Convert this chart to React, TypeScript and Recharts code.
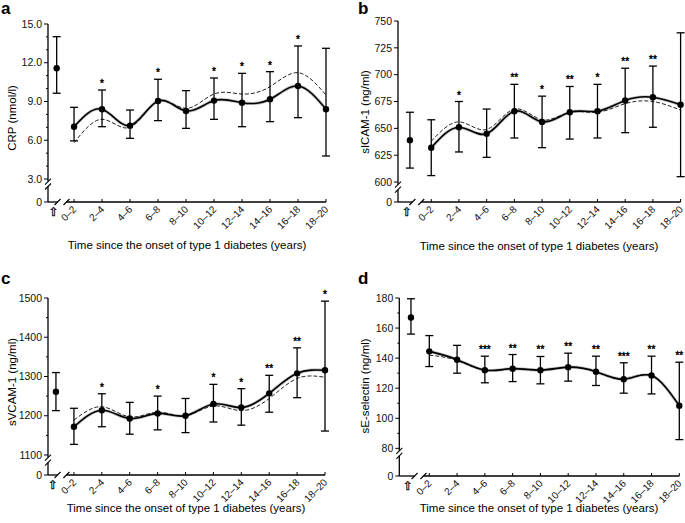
import React from 'react';
import { ComposedChart, Line, Scatter, ErrorBar, XAxis, YAxis, ReferenceLine, ReferenceDot } from 'recharts';

const CATS = ['0–2', '2–4', '4–6', '6–8', '8–10', '10–12', '12–14', '14–16', '16–18', '18–20'];

// a: CRP  (baseline = [mean, lower, upper])
const crpBase = [11.57, 9.64, 14.02];
const crpMean = [7.05, 8.4, 7.13, 9.04, 8.27, 9.07, 8.91, 9.17, 10.2, 8.4];
const crpLow = [5.95, 7.05, 6.15, 7.52, 6.92, 7.62, 7.05, 7.44, 7.75, 4.78];
const crpHigh = [8.55, 9.89, 8.34, 10.72, 9.84, 10.82, 11.18, 11.31, 13.3, 13.12];
const crpAdj = [5.81, 7.62, 7.0, 9.0, 8.47, 9.58, 9.58, 10.15, 11.23, 9.5];
const crpStars = ['', '*', '', '*', '', '*', '*', '*', '*', ''];

// b: sICAM-1
const icamBase = [639, 613, 665];
const icamMean = [632, 651, 645, 666, 656, 665, 666, 676, 679, 672];
const icamLow = [606, 628, 623, 641, 632, 640, 641, 646, 651, 605];
const icamHigh = [658, 675, 668, 691, 680, 689, 691, 706, 708, 739];
const icamAdj = [638, 656, 649, 668, 658, 665, 665, 673, 675, 667];
const icamStars = ['', '*', '', '**', '*', '**', '*', '**', '**', ''];

// c: sVCAM-1
const vcamBase = [1261, 1213, 1310];
const vcamMean = [1172, 1214, 1193, 1206, 1200, 1230, 1221, 1257, 1308, 1316];
const vcamLow = [1127, 1172, 1153, 1164, 1157, 1184, 1176, 1209, 1246, 1161];
const vcamHigh = [1219, 1256, 1234, 1250, 1244, 1280, 1269, 1303, 1373, 1492];
const vcamAdj = [1189, 1223, 1197, 1209, 1200, 1225, 1213, 1244, 1295, 1298];
const vcamStars = ['', '*', '', '*', '', '*', '*', '**', '**', '*'];

// d: sE-selectin
const selBase = [167, 156, 179.5];
const selMean = [144.5, 139, 132, 133, 132, 134, 131, 126, 128.4, 108.4];
const selLow = [134.4, 130, 123.6, 124.4, 122.9, 124.7, 121.8, 116.7, 116.2, 85.8];
const selHigh = [155, 148.5, 141.3, 142.4, 141.1, 143.3, 141.3, 136.9, 141.3, 137.3];
const selAdj = [142, 138.5, 132, 133, 132, 134, 131, 126, 128.4, 108.4];
const selStars = ['', '', '***', '**', '**', '**', '**', '***', '**', '**'];

const FONT = '"Liberation Sans", Arial, Helvetica, sans-serif';
const X_TITLE = 'Time since the onset of type 1 diabetes (years)';

const panels = [
  {
    letter: 'a', left: 0, top: 0, w: 340, h: 260, mt: 24, mr: 14, yw: 48, xh: 58,
    xDomain: [-0.93, 9], baseX: -0.62, yDomain: [1.22, 15],
    majors: [3, 6, 9, 12, 15], minors: [4, 5, 7, 8, 10, 11, 13, 14], fmt: (v: number) => v.toFixed(1),
    yGap: [2.42, 2.8], xGap: [-0.59, -0.27],
    yTitle: 'CRP (nmol/l)', yt: [12, 118], xt: [187, 245], lt: [1, 0],
    base: crpBase, mean: crpMean, low: crpLow, high: crpHigh, adj: crpAdj, stars: crpStars,
  },
  {
    letter: 'b', left: 340, top: 0, w: 345, h: 260, mt: 21, mr: 4.4, yw: 58, xh: 58,
    xDomain: [-1.2, 9], baseX: -0.77, yDomain: [581.4, 750],
    majors: [600, 625, 650, 675, 700, 725, 750], minors: [], fmt: (v: number) => String(v),
    yGap: [593, 597.6], xGap: [-0.68, -0.36],
    yTitle: 'sICAM-1 (ng/ml)', yt: [25, 112], xt: [199, 246], lt: [18, 0],
    base: icamBase, mean: icamMean, low: icamLow, high: icamHigh, adj: icamAdj, stars: icamStars,
  },
  {
    letter: 'c', left: 0, top: 260, w: 340, h: 263, mt: 38, mr: 15, yw: 48, xh: 48,
    xDomain: [-0.93, 9], baseX: -0.645, yDomain: [1049, 1500],
    majors: [1100, 1200, 1300, 1400, 1500], minors: [1150, 1250, 1350, 1450], fmt: (v: number) => String(v),
    yGap: [1080.6, 1093.4], xGap: [-0.59, -0.27],
    yTitle: 'sVCAM-1 (ng/ml)', yt: [12, 122], xt: [186, 248], lt: [1, 10],
    base: vcamBase, mean: vcamMean, low: vcamLow, high: vcamHigh, adj: vcamAdj, stars: vcamStars,
  },
  {
    letter: 'd', left: 340, top: 260, w: 345, h: 263, mt: 38, mr: 5.7, yw: 59.3, xh: 47,
    xDomain: [-1.08, 9], baseX: -0.66, yDomain: [61.6, 180],
    majors: [80, 100, 120, 140, 160, 180], minors: [90, 110, 130, 150, 170], fmt: (v: number) => String(v),
    yGap: [75, 78.3], xGap: [-0.53, -0.21],
    yTitle: 'sE-selectin (ng/ml)', yt: [25, 126], xt: [199, 248], lt: [18, 10],
    base: selBase, mean: selMean, low: selLow, high: selHigh, adj: selAdj, stars: selStars,
  },
];

const slant = (props: any) => (
  <line x1={props.cx - 3} y1={props.cy + 3} x2={props.cx + 3} y2={props.cy - 3} stroke="#000" strokeWidth={1.1} />
);

const dotShape = (props: any) => <circle cx={props.cx} cy={props.cy} r={3.2} fill="#000" />;

const starShape = (props: any) => {
  const s = props.payload && props.payload.star;
  if (!s) return <g />;
  return (
    <text x={props.cx} y={props.cy - 3} textAnchor="middle" fontSize={10} fontFamily={FONT}
      fill="#000" stroke="#000" strokeWidth={0.4}>{s}</text>
  );
};

function Panel({ p }: { p: any }) {
  const rows = CATS.map((c, i) => ({
    x: i, cat: c, mean: p.mean[i], adj: p.adj[i], hi: p.high[i],
    err: [p.mean[i] - p.low[i], p.high[i] - p.mean[i]], star: p.stars[i],
  }));
  const pts = [
    { x: p.baseX, mean: p.base[0], hi: p.base[2], err: [p.base[0] - p.base[1], p.base[2] - p.base[0]], star: '' },
    ...rows,
  ];
  const [x0, x1] = p.xDomain;
  const [y0, y1] = p.yDomain;
  const yTicks = [y0, ...p.minors, ...p.majors].sort((a: number, b: number) => a - b);

  const renderYTick = (props: any) => {
    const v = props.payload.value;
    const isBottom = Math.abs(v - y0) < 1e-6;
    const major = isBottom || p.majors.includes(v);
    const label = isBottom ? '0' : major ? p.fmt(v) : '';
    return (
      <g>
        <line x1={props.x - (major ? 4 : 2)} x2={props.x} y1={props.y} y2={props.y} stroke="#000" strokeWidth={1} />
        {label && (
          <text x={props.x - 6} y={props.y} dy="0.35em" textAnchor="end" fontSize={10.5} fontFamily={FONT} fill="#111">{label}</text>
        )}
      </g>
    );
  };

  const renderXTick = (props: any) => {
    const v = props.payload.value;
    if (v < -0.05) {
      return (
        <text x={props.x - 3} y={props.y + 14} textAnchor="middle" fontSize={12} fontFamily="DejaVu Sans"
          fill="#000" stroke="#000" strokeWidth={0.3}>⇧</text>
      );
    }
    const label = CATS[Math.round(v)];
    const ax = props.x + 3;
    const ay = props.y + 8;
    return (
      <g>
        <line x1={props.x} x2={props.x} y1={props.y - 3} y2={props.y} stroke="#000" strokeWidth={1} />
        <text x={ax} y={ay} transform={`rotate(-45 ${ax} ${ay})`} textAnchor="end" fontSize={10} fontFamily={FONT} fill="#111">{label}</text>
      </g>
    );
  };

  return (
    <div style={{ position: 'absolute', left: p.left, top: p.top, width: p.w, height: p.h }}>
      <ComposedChart width={p.w} height={p.h} margin={{ top: p.mt, right: p.mr, bottom: 0, left: 0 }}>
        <XAxis
          type="number" dataKey="x" domain={p.xDomain}
          ticks={[p.baseX, ...CATS.map((_, i) => i)]} interval={0}
          axisLine={false} tickLine={false} tickSize={0} tickMargin={0} height={p.xh}
          tick={renderXTick}
        />
        <YAxis
          type="number" domain={p.yDomain} ticks={yTicks} interval={0}
          axisLine={false} tickLine={false} tickSize={0} tickMargin={0} width={p.yw}
          tick={renderYTick}
        />
        {/* broken axes */}
        <ReferenceLine segment={[{ x: x0, y: y0 }, { x: x0, y: p.yGap[0] }]} stroke="#000" strokeWidth={1.3} ifOverflow="visible" />
        <ReferenceLine segment={[{ x: x0, y: p.yGap[1] }, { x: x0, y: y1 }]} stroke="#000" strokeWidth={1.3} ifOverflow="visible" />
        <ReferenceLine segment={[{ x: x0, y: y0 }, { x: p.xGap[0], y: y0 }]} stroke="#000" strokeWidth={1.3} ifOverflow="visible" />
        <ReferenceLine segment={[{ x: p.xGap[1], y: y0 }, { x: x1, y: y0 }]} stroke="#000" strokeWidth={1.3} ifOverflow="visible" />
        <ReferenceDot x={x0} y={p.yGap[0]} shape={slant} ifOverflow="visible" />
        <ReferenceDot x={x0} y={p.yGap[1]} shape={slant} ifOverflow="visible" />
        <ReferenceDot x={p.xGap[0]} y={y0} shape={slant} ifOverflow="visible" />
        <ReferenceDot x={p.xGap[1]} y={y0} shape={slant} ifOverflow="visible" />

        <Line data={rows} dataKey="mean" type="natural" stroke="#c4c4c4" strokeWidth={3.2} dot={false} activeDot={false} isAnimationActive={false} />
        <Line data={rows} dataKey="adj" type="natural" stroke="#222" strokeWidth={1} strokeDasharray="4 2" dot={false} activeDot={false} isAnimationActive={false} />
        <Line data={rows} dataKey="mean" type="natural" stroke="#000" strokeWidth={1.6} dot={false} activeDot={false} isAnimationActive={false} />
        <Scatter data={pts} dataKey="mean" shape={dotShape} isAnimationActive={false}>
          <ErrorBar dataKey="err" direction="y" width={4} stroke="#000" strokeWidth={1.3} />
        </Scatter>
        <Scatter data={rows} dataKey="hi" shape={starShape} isAnimationActive={false} />
      </ComposedChart>

      <div style={{ position: 'absolute', left: p.lt[0], top: p.lt[1], fontSize: 17, fontWeight: 700, lineHeight: '17px' }}>{p.letter}</div>
      <div style={{
        position: 'absolute', left: p.yt[0] - 100, top: p.yt[1] - 7, width: 200, height: 14, lineHeight: '14px',
        fontSize: 11.5, textAlign: 'center', transform: 'rotate(-90deg)', whiteSpace: 'nowrap',
      }}>{p.yTitle}</div>
      <div style={{
        position: 'absolute', left: p.xt[0] - 160, top: p.xt[1] - 7, width: 320, height: 14, lineHeight: '14px',
        fontSize: 11.5, textAlign: 'center', whiteSpace: 'nowrap',
      }}>{X_TITLE}</div>
    </div>
  );
}

export default function App() {
  return (
    <div style={{ position: 'absolute', left: 0, top: 0, width: 685, height: 523, background: '#fff', fontFamily: FONT, color: '#000', overflow: 'hidden' }}>
      {panels.map(p => <Panel key={p.letter} p={p} />)}
    </div>
  );
}
